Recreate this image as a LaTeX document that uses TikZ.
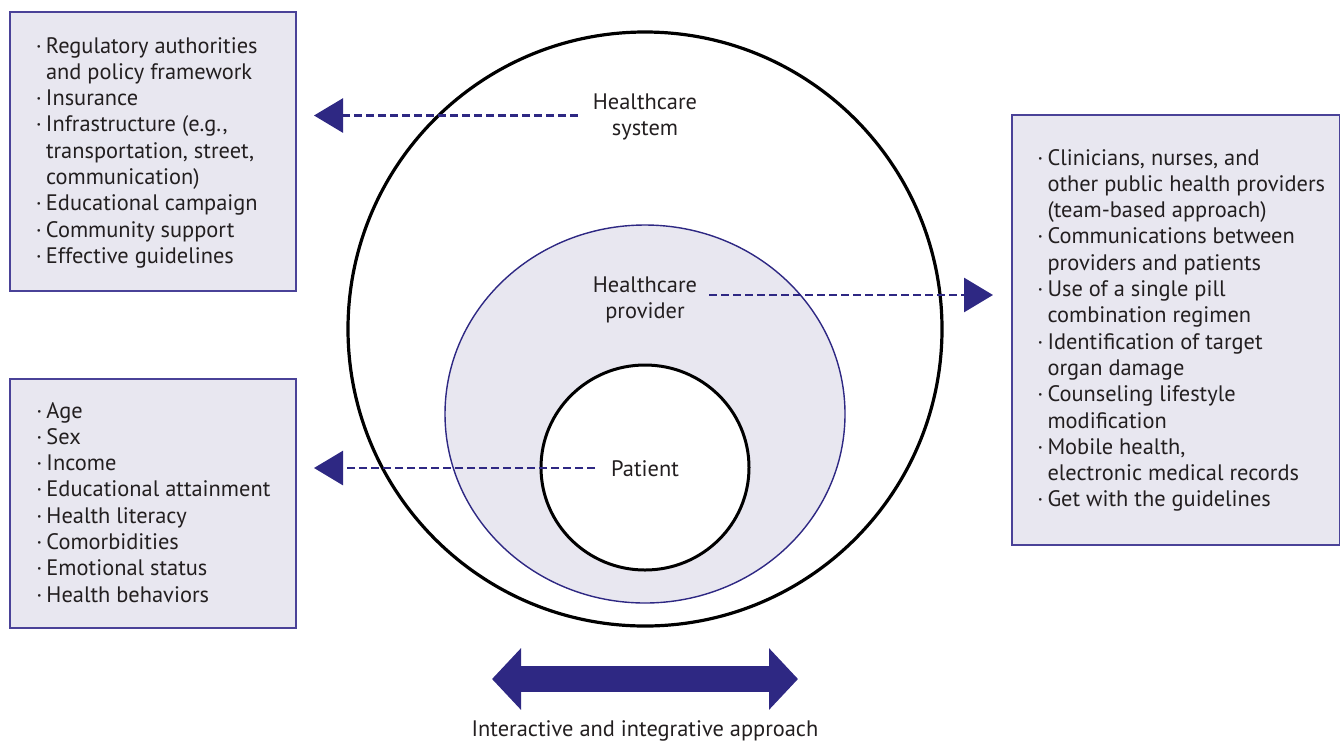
\documentclass[tikz,border=0pt]{standalone}
\usepackage{fontspec}
\setmainfont{PT Sans}
\usetikzlibrary{arrows.meta,shapes.geometric}
\definecolor{ink}{HTML}{2E2883}
\definecolor{frame}{HTML}{4A4298}
\definecolor{lav}{HTML}{E8E7F0}
\definecolor{txt}{HTML}{231F20}
% bullet hung to the left of the item text
\newcommand{\itm}{\makebox[0pt][r]{·\hspace{4.2pt}}}
\begin{document}
\begin{tikzpicture}[x=1pt,y=-1pt,
  every node/.style={inner sep=0pt,outer sep=0pt,text=txt},
  bodyfont/.style={font=\fontsize{22.4}{26.3}\selectfont},
  listbox/.style={draw=frame,fill=lav,line width=1.2pt},
  listtext/.style={bodyfont,align=left,anchor=north west},
  label/.style={bodyfont,align=center,anchor=north},
  dasharrow/.style={draw=ink,line width=2.8pt,dash pattern=on 8pt off 4pt,
    -{Triangle[length=29pt,width=34pt]}},
  bigarrow/.style={draw=ink,line width=26pt,
    {Triangle[length=29pt,width=60pt]}-{Triangle[length=29pt,width=60pt]}}
]
\useasboundingbox (0,0) rectangle (1340,740);

% nested levels
\node[draw=black,line width=3.2pt,circle,minimum size=594pt] (system) at (645,329) {};
\node[draw=ink,fill=lav,line width=1.4pt,ellipse,minimum width=400pt,minimum height=378pt] (provider) at (645,414) {};
\node[draw=black,fill=white,line width=3pt,ellipse,minimum width=208pt,minimum height=205pt] (patient) at (645,467.5) {};

% level labels
\node[label] (syslab) at (645,91.1) {\strut Healthcare\\system};
\node[label] (provlab) at (645,273.6) {\strut Healthcare\\provider};
\node[label] (patlab) at (645,457.6) {\strut Patient};

% factor boxes
\node[listbox,anchor=north west,minimum width=286pt,minimum height=279pt] (sysbox) at (10,12) {};
\node[listbox,anchor=north west,minimum width=286pt,minimum height=249pt] (patbox) at (10,379) {};
\node[listbox,anchor=north west,minimum width=327.5pt,minimum height=430pt] (provbox) at (1012,115) {};

\node[listtext] (systext) at (46,34.6) {\strut\itm Regulatory authorities\\
and policy framework\\
\itm Insurance\\
\itm Infrastructure (e.g.,\\
transportation, street,\\
communication)\\
\itm Educational campaign\\
\itm Community support\\
\itm Effective guidelines};

\node[listtext] (pattext) at (46.5,399.6) {\strut\itm Age\\
\itm Sex\\
\itm Income\\
\itm Educational attainment\\
\itm Health literacy\\
\itm Comorbidities\\
\itm Emotional status\\
\itm Health behaviors};

\node[listtext] (provtext) at (1047.5,146.6) {\strut\itm Clinicians, nurses, and\\
other public health providers\\
(team-based approach)\\
\itm Communications between\\
providers and patients\\
\itm Use of a single pill\\
combination regimen\\
\itm Identification of target\\
organ damage\\
\itm Counseling lifestyle\\
modification\\
\itm Mobile health,\\
electronic medical records\\
\itm Get with the guidelines};

% dashed links from each level to its factors
\coordinate (sysfrom) at (578,115.5);
\coordinate (systo) at (314,115.5);
\coordinate (provfrom) at (709,295);
\coordinate (provto) at (993,295);
\coordinate (patfrom) at (595,468);
\coordinate (patto) at (314,468);
\draw[dasharrow] (sysfrom) -- (systo);
\draw[dasharrow] (provfrom) -- (provto);
\draw[dasharrow] (patfrom) -- (patto);

% two-way arrow with caption
\coordinate (bigl) at (492,679);
\coordinate (bigr) at (798,679);
\draw[bigarrow] (bigl) -- (bigr);
\node[bodyfont,anchor=base] (caption) at (645,736) {Interactive and integrative approach};
\end{tikzpicture}
\end{document}
